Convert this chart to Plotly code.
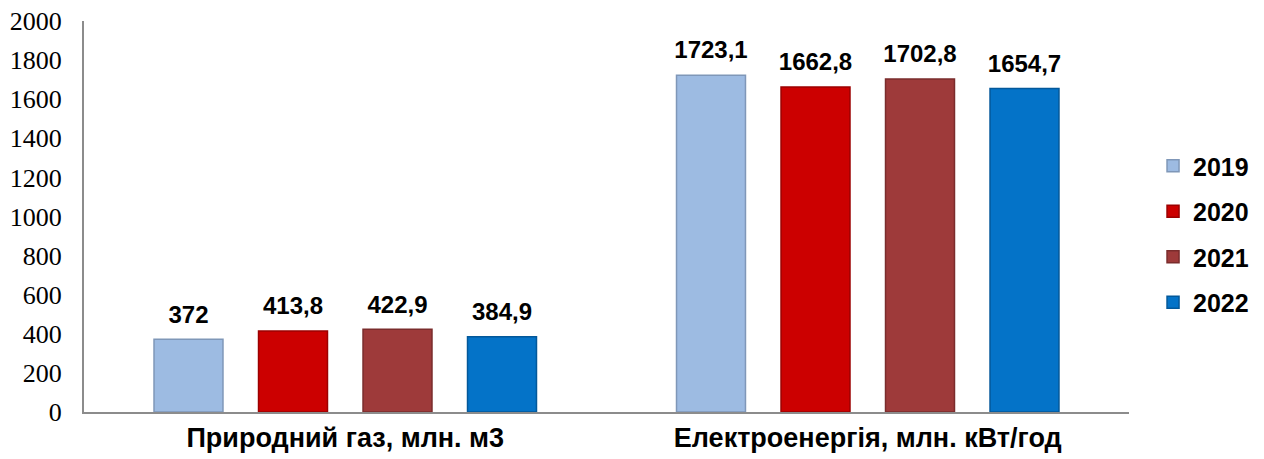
import plotly.graph_objects as go

categories = ["Природний газ, млн. м3", "Електроенергія, млн. кВт/год"]
years = ["2019", "2020", "2021", "2022"]
values = {
    "2019": [372, 1723.1],
    "2020": [413.8, 1662.8],
    "2021": [422.9, 1702.8],
    "2022": [384.9, 1654.7],
}
colors = {
    "2019": "#9DBBE2",
    "2020": "#CC0000",
    "2021": "#9E3A3A",
    "2022": "#0473C8",
}
outline = {
    "2019": "#7F97B8",
    "2020": "#9C0000",
    "2021": "#7A2C2C",
    "2022": "#03589A",
}
y_ticks = [0, 200, 400, 600, 800, 1000, 1200, 1400, 1600, 1800, 2000]


def fmt(v):
    return f"{v:g}".replace(".", ",")


fig = go.Figure()
for yr in years:
    fig.add_trace(go.Bar(
        name=yr,
        x=categories,
        y=values[yr],
        marker=dict(color=colors[yr], line=dict(color=outline[yr], width=1.5)),
        text=["<span style='font-size:24px'>" + fmt(v) + "</span><br> " for v in values[yr]],
        textposition="outside",
        constraintext="none",
        textfont=dict(family="Arial", size=9, color="#000000", weight="bold"),
        cliponaxis=False,
        legendgroup=yr,
    ))

fig.update_layout(
    width=1264,
    height=459,
    margin=dict(l=84, r=135, t=21, b=47, autoexpand=False),
    paper_bgcolor="white",
    plot_bgcolor="white",
    barmode="group",
    bargap=0.2,
    bargroupgap=0.34,
    showlegend=True,
    legend=dict(
        x=1.023,
        xanchor="left",
        y=0.455,
        yanchor="middle",
        font=dict(family="Arial", size=25, color="#000000", weight="bold"),
        tracegroupgap=10,
        itemwidth=30,
    ),
    font=dict(family="Arial"),
)
fig.update_xaxes(
    showline=True,
    linecolor="#8C8C8C",
    linewidth=2,
    showgrid=False,
    ticks="",
    tickfont=dict(family="Arial", size=27, color="#000000", weight="bold"),
    ticklabelstandoff=1,
    automargin=False,
)
fig.update_yaxes(
    range=[0, 2000],
    tickvals=y_ticks,
    showline=True,
    linecolor="#8C8C8C",
    linewidth=2,
    showgrid=False,
    zeroline=False,
    ticks="",
    tickfont=dict(family="Liberation Serif", size=26, color="#000000"),
    ticklabelstandoff=15,
    automargin=False,
)
fig.write_html(
    "out.html",
    config={"displayModeBar": False},
    post_script="document.body.style.margin='0px';",
)
